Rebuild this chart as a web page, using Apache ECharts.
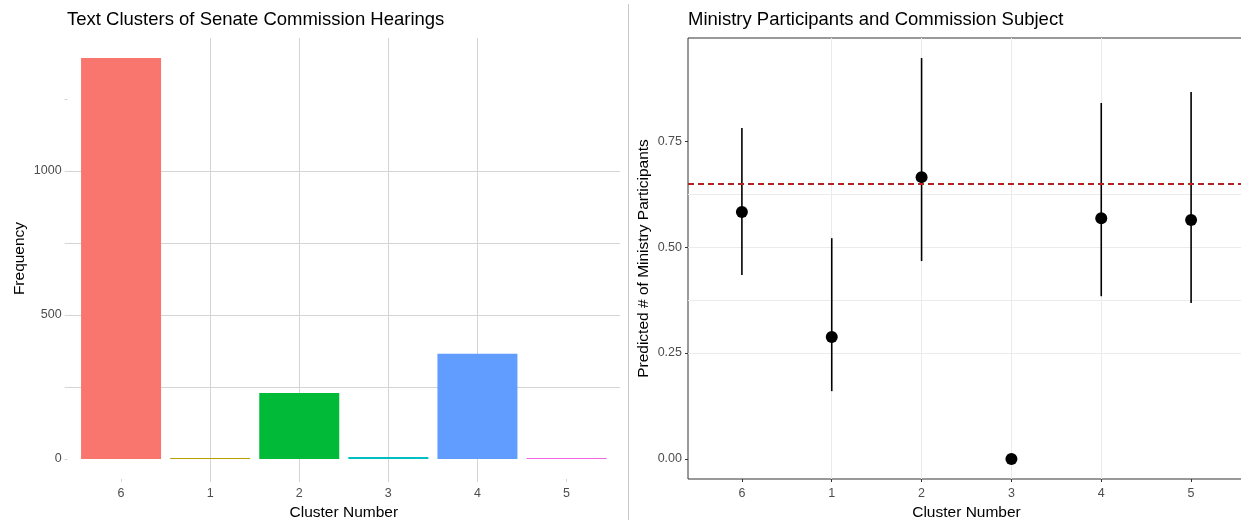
<!DOCTYPE html>
<html>
<head>
<meta charset="utf-8">
<script src="https://cdn.jsdelivr.net/npm/echarts@6/dist/echarts.min.js"></script>
<style>
html,body{margin:0;padding:0;background:#fff;}
#chart{width:1241px;height:523px;}
</style>
</head>
<body>
<div id="chart"></div>
<script>
// ---- data ----
const clusterLabels = ['6', '1', '2', '3', '4', '5'];
const frequency = [1392, 3, 229, 7, 365, 3];
const barColors = ['#F8766D', '#B79F00', '#00BA38', '#00BFC4', '#619CFF', '#F564E3'];
const predicted = [0.583, 0.288, 0.665, 0.0, 0.568, 0.564];
const ciLow = [0.434, 0.160, 0.467, null, 0.384, 0.368];
const ciHigh = [0.781, 0.521, 0.946, null, 0.840, 0.866];
const refLine = 0.649;
const freqTicks = [0, 250, 500, 750, 1000, 1250];
const freqLabels = [0, 500, 1000];
const predMajor = [0, 0.25, 0.5, 0.75];
const predMinor = [0.125, 0.375, 0.625, 0.875];
const positions = clusterLabels.map((c, i) => i + 1);

const FONT = "'Liberation Sans', Arial, Helvetica, sans-serif";
const chart = echarts.init(document.getElementById('chart'), null, {renderer: 'canvas'});

const barData = frequency.map((v, i) => ({value: [positions[i], v], itemStyle: {color: barColors[i]}}));
const pointData = predicted.map((v, i) => [positions[i], v]);
const errData = predicted.map((v, i) => [positions[i], v, ciLow[i], ciHigh[i]]);

const freqMax = Math.max(...frequency);
const predMax = Math.max(...ciHigh.filter(v => v != null));

const catLabel = v => clusterLabels[Math.round(v) - 1] || '';

const option = {
  animation: false,
  backgroundColor: '#fff',
  textStyle: {fontFamily: FONT},
  title: [
    {text: 'Text Clusters of Senate Commission Hearings', left: 67, top: 10, padding: 0,
     textStyle: {fontFamily: FONT, fontSize: 18.5, fontWeight: 'normal', color: '#000'}},
    {text: 'Ministry Participants and Commission Subject', left: 688, top: 10, padding: 0,
     textStyle: {fontFamily: FONT, fontSize: 18.5, fontWeight: 'normal', color: '#000'}}
  ],
  graphic: [
    {type: 'line', shape: {x1: 628.5, y1: 4, x2: 628.5, y2: 520}, style: {stroke: '#c8c8c8', lineWidth: 1}, silent: true}
  ],
  grid: [
    {left: 67.6, top: 38, width: 552.4, height: 441, containLabel: false, outerBoundsMode: 'none'},
    {left: 688, top: 38, width: 557, height: 441, containLabel: false, outerBoundsMode: 'none', show: true,
     borderColor: '#333', borderWidth: 1, backgroundColor: 'transparent'}
  ],
  xAxis: [
    {type: 'value', gridIndex: 0, min: 0.4, max: 6.6,
     name: 'Cluster Number', nameLocation: 'middle', nameGap: 24,
     nameTextStyle: {fontFamily: FONT, fontSize: 15.5, color: '#000'},
     axisLine: {show: false, onZero: false},
     axisTick: {show: true, customValues: positions, length: 3, lineStyle: {color: '#d4d4d4'}},
     axisLabel: {customValues: positions, formatter: catLabel, fontFamily: FONT, fontSize: 12.5, color: '#4d4d4d', margin: 8},
     splitLine: {show: true, showMinLine: false, showMaxLine: false, lineStyle: {color: '#d4d4d4', width: 1}}
    },
    {type: 'value', gridIndex: 1, min: 0.4, max: 6.6,
     name: 'Cluster Number', nameLocation: 'middle', nameGap: 24,
     nameTextStyle: {fontFamily: FONT, fontSize: 15.5, color: '#000'},
     axisLine: {show: false, onZero: false},
     axisTick: {show: true, customValues: positions, length: 3, lineStyle: {color: '#333'}},
     axisLabel: {customValues: positions, formatter: catLabel, fontFamily: FONT, fontSize: 12.5, color: '#4d4d4d', margin: 8},
     splitLine: {show: true, showMinLine: false, showMaxLine: false, lineStyle: {color: '#ebebeb', width: 1}}
    }
  ],
  yAxis: [
    {type: 'value', gridIndex: 0, min: -freqMax * 0.05, max: freqMax * 1.05,
     name: 'Frequency', nameLocation: 'middle', nameGap: 40,
     nameTextStyle: {fontFamily: FONT, fontSize: 15.5, color: '#000'},
     axisLine: {show: false, onZero: false},
     axisTick: {show: true, customValues: freqTicks, length: 3, lineStyle: {color: '#d4d4d4'}},
     axisLabel: {customValues: freqLabels, formatter: v => String(v), fontFamily: FONT, fontSize: 12.5, color: '#4d4d4d', margin: 6},
     splitLine: {show: true, showMinLine: false, showMaxLine: false, lineStyle: {color: '#d4d4d4', width: 1}}
    },
    {type: 'value', gridIndex: 1, min: -predMax * 0.05, max: predMax * 1.05,
     name: 'Predicted # of Ministry Participants', nameLocation: 'middle', nameGap: 36,
     nameTextStyle: {fontFamily: FONT, fontSize: 15.5, color: '#000'},
     axisLine: {show: false, onZero: false},
     axisTick: {show: true, customValues: predMajor, length: 3, lineStyle: {color: '#333'}},
     axisLabel: {customValues: predMajor, formatter: v => v.toFixed(2), fontFamily: FONT, fontSize: 12.5, color: '#4d4d4d', margin: 6},
     splitLine: {show: true, showMinLine: false, showMaxLine: false, lineStyle: {color: '#ebebeb', width: 1}}
    },
    {type: 'value', gridIndex: 1, min: -predMax * 0.05, max: predMax * 1.05,
     axisLine: {show: false, onZero: false},
     axisTick: {show: false, customValues: predMinor},
     axisLabel: {show: false, customValues: predMinor},
     splitLine: {show: true, showMinLine: false, showMaxLine: false, lineStyle: {color: '#ebebeb', width: 1}}
    }
  ],
  series: [
    {type: 'bar', xAxisIndex: 0, yAxisIndex: 0, data: barData, barWidth: 80, z: 3},
    {type: 'custom', xAxisIndex: 1, yAxisIndex: 1, data: errData, z: 3,
     renderItem: function (params, api) {
       const lo = api.value(2), hi = api.value(3);
       if (lo == null || hi == null || isNaN(lo) || isNaN(hi)) return null;
       const x = api.value(0);
       const p1 = api.coord([x, lo]);
       const p2 = api.coord([x, hi]);
       return {type: 'line', shape: {x1: p1[0], y1: p1[1], x2: p2[0], y2: p2[1]},
               style: {stroke: '#000', lineWidth: 1.6}};
     }},
    {type: 'scatter', xAxisIndex: 1, yAxisIndex: 1, data: pointData, symbolSize: 12, z: 4,
     itemStyle: {color: '#000', opacity: 1},
     markLine: {silent: true, symbol: 'none', label: {show: false},
       lineStyle: {color: '#B22222', type: [6, 4], width: 1.8, opacity: 1},
       data: [{yAxis: refLine}]}}
  ]
};
chart.setOption(option);
</script>
</body>
</html>
